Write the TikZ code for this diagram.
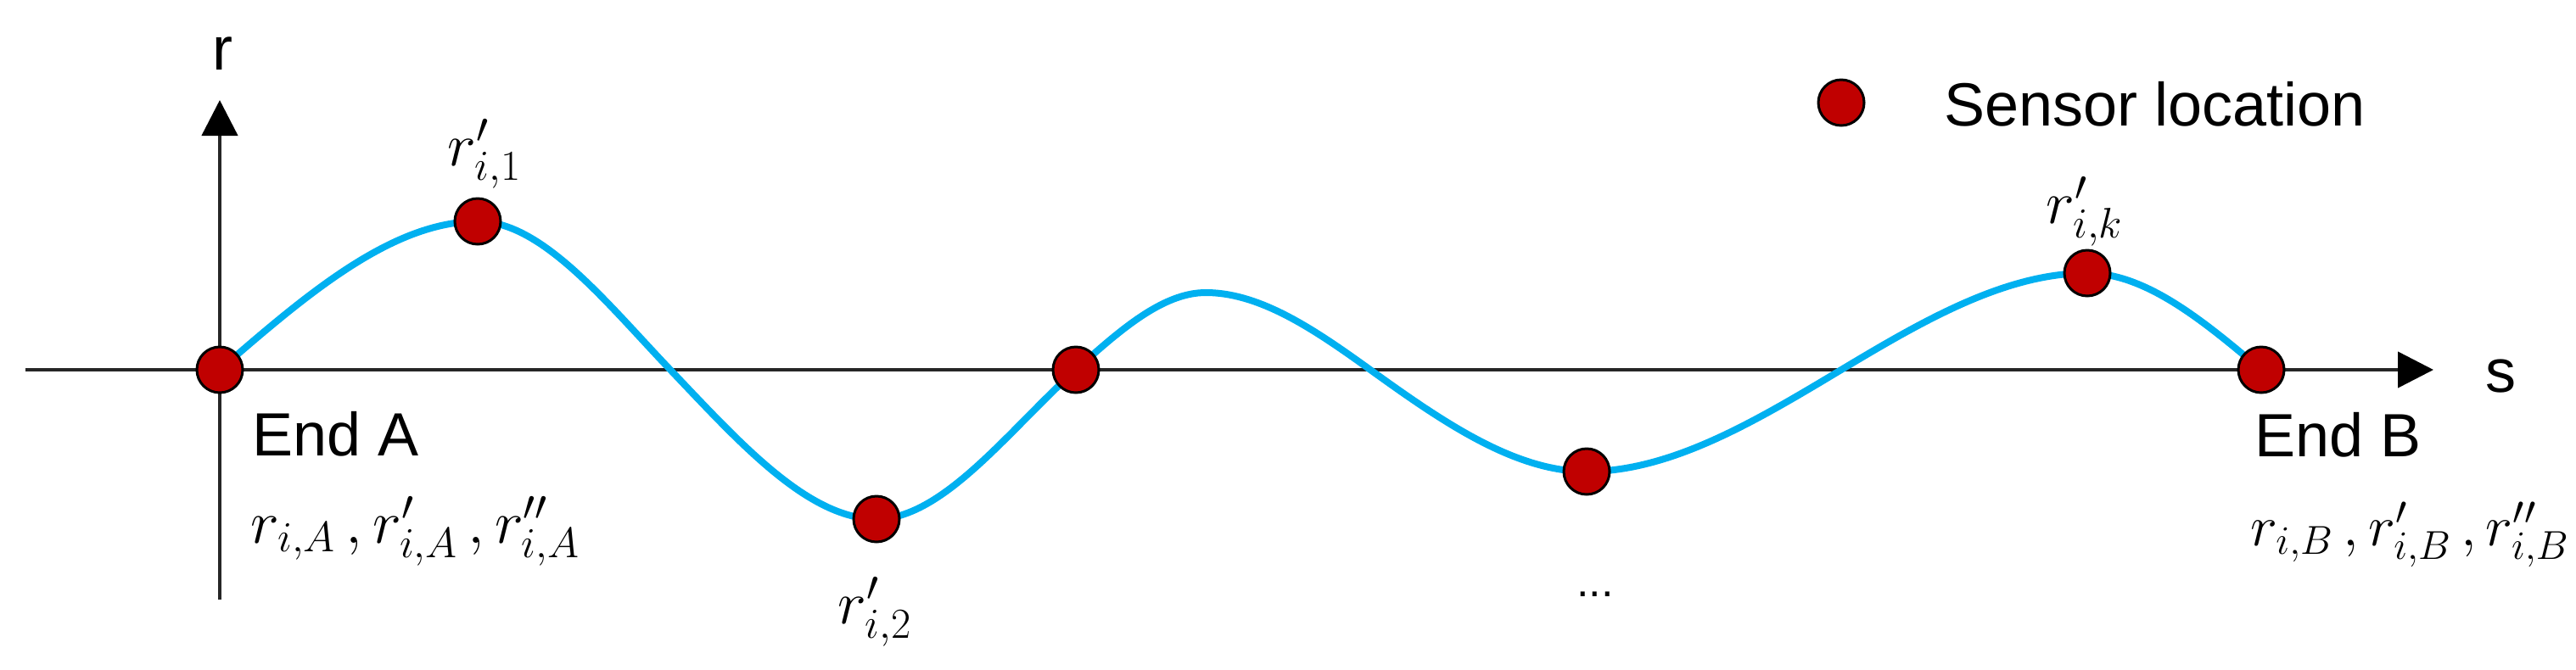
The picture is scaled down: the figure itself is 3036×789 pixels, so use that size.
\RequirePackage{fix-cm}
\documentclass[tikz,border=0pt]{standalone}
\usepackage{fontspec}
\setmainfont{Liberation Sans}
\usetikzlibrary{arrows.meta}
\definecolor{curveblue}{HTML}{00B0F0}
\definecolor{sensorred}{HTML}{C00000}
\definecolor{axisgray}{HTML}{262626}
\begin{document}
\begin{tikzpicture}[x=0.5pt,y=-0.5pt,
  sensor/.style={circle,draw=black,line width=1.5pt,fill=sensorred,minimum size=27pt,inner sep=0pt},
  axisline/.style={draw=axisgray,line width=2.2pt,-{Triangle[length=21pt,width=21pt,color=black]}},
  wave/.style={draw=curveblue,line width=4pt},
  sans/.style={font=\fontsize{36}{40}\selectfont,inner sep=0pt},
  mathlbl/.style={font=\fontsize{36}{40}\selectfont,inner sep=0pt},
  mathrow/.style={font=\fontsize{34}{40}\selectfont,inner sep=0pt}]
\useasboundingbox (0,0) rectangle (3036,789);
% axes
\coordinate (sL) at (30,436);
\coordinate (sR) at (2868,436);
\coordinate (rB) at (259,707);
\coordinate (rT) at (259,118);
\draw[axisline] (sL) -- (sR);
\draw[axisline] (rB) -- (rT);
% curve knots
\coordinate (pA) at (259,436);
\coordinate (p1) at (563,261);
\coordinate (x1) at (790,436);
\coordinate (p2) at (1033,612);
\coordinate (p3) at (1268,436);
\coordinate (pk5) at (1421,345);
\coordinate (x2) at (1615,436);
\coordinate (p4) at (1870,556);
\coordinate (x3) at (2170,436);
\coordinate (pk) at (2460,322);
\coordinate (pB) at (2665,436);
\draw[wave] (pA) .. controls (360.3,348) and (461.7,261) .. (p1)
  .. controls (638.7,261) and (714.3,356.5) .. (x1)
  .. controls (871,521) and (952,612) .. (p2)
  .. controls (1111.3,612) and (1189.7,506.5) .. (p3)
  .. controls (1319,390.1) and (1370,345) .. (pk5)
  .. controls (1485.7,345) and (1550.3,389.4) .. (x2)
  .. controls (1700,497.2) and (1785,556) .. (p4)
  .. controls (1970,556) and (2070,496) .. (x3)
  .. controls (2266.7,378) and (2363.3,322) .. (pk)
  .. controls (2528.3,322) and (2596.7,377.9) .. (pB);
% sensors
\node[sensor] (nA) at (pA) {};
\node[sensor] (n1) at (p1) {};
\node[sensor] (n2) at (p2) {};
\node[sensor] (n3) at (p3) {};
\node[sensor] (n4) at (p4) {};
\node[sensor] (nk) at (pk) {};
\node[sensor] (nB) at (pB) {};
% axis labels
\node[sans,anchor=base] (rlab) at (262,82) {r};
\node[sans,anchor=base] (slab) at (2947,462) {s};
% end labels
\node[sans,anchor=base west] (endA) at (297,537) {End A};
\node[mathlbl,anchor=base west] (valA) at (295,640) {$r_{i,A}\,,r'_{i,A}\,,r''_{i,A}$};
\node[sans,anchor=base west] (endB) at (2657,538) {End B};
\node[mathrow,anchor=base west] (valB) at (2652,643) {$r_{i,B}\,,r'_{i,B}\,,r''_{i,B}$};
% sensor labels
\node[mathlbl,anchor=base] (l1) at (571,195) {$r'_{i,1}$};
\node[mathlbl,anchor=base] (l2) at (1031,735) {$r'_{i,2}$};
\node[mathlbl,anchor=base] (lk) at (2457,263) {$r'_{i,k}$};
\node[font=\fontsize{26}{30}\selectfont,anchor=base,inner sep=0pt] (dots) at (1880,703) {...};
% legend
\node[sensor] (legdot) at (2170,121) {};
\node[sans,anchor=base west] (legtxt) at (2291,148) {Sensor location};
\end{tikzpicture}
\end{document}
